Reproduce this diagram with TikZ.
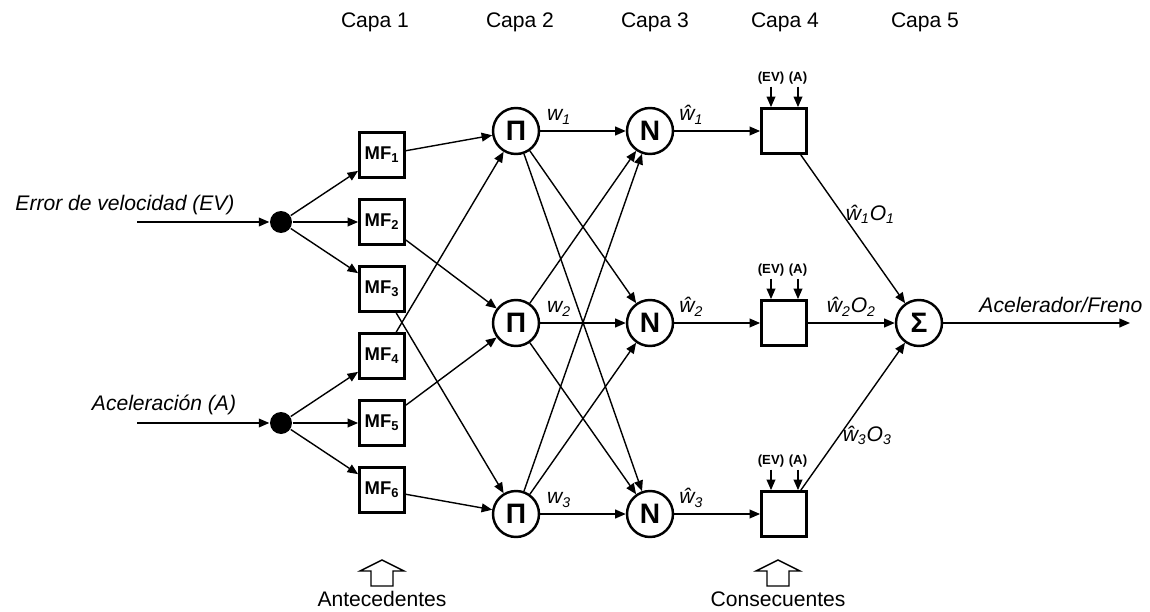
\documentclass[tikz,border=0pt]{standalone}
\usepackage{fontspec}
\setmainfont{Liberation Sans}
\usetikzlibrary{arrows.meta,positioning}

\tikzset{
  mf/.style={draw, line width=1.6pt, minimum size=0.9cm, inner sep=0pt,
    font=\bfseries\fontsize{10.5}{12}\selectfont},
  op/.style={draw, circle, line width=1.4pt, minimum size=0.92cm, inner sep=0pt,
    font=\bfseries\fontsize{16}{18}\selectfont},
  rule/.style={draw, line width=1.6pt, minimum size=0.9cm, inner sep=0pt},
  dot/.style={circle, fill, minimum size=0.44cm, inner sep=0pt},
  lbl/.style={font=\itshape\fontsize{12}{14}\selectfont, inner sep=1.5pt},
  tiny/.style={font=\bfseries\fontsize{7.5}{9}\selectfont, inner sep=1pt},
  title/.style={font=\fontsize{12}{14}\selectfont},
}

\begin{document}
\begin{tikzpicture}[x=0.02cm, y=-0.02cm, line width=0.8pt,
    >={Triangle[length=6pt,width=5pt]}]
    \useasboundingbox (0,0) rectangle (1150,612);

    % layer titles
    \node[title] (c1) at (375,22) {Capa 1};
    \node[title] (c2) at (520,22) {Capa 2};
    \node[title] (c3) at (655,22) {Capa 3};
    \node[title] (c4) at (785,22) {Capa 4};
    \node[title] (c5) at (925,22) {Capa 5};

    % inputs
    \coordinate (inev) at (137,222);
    \coordinate (ina) at (137,423);
    \node[lbl] (tev) at (125,205) {Error de velocidad (EV)};
    \node[lbl] (ta) at (164,405) {Aceleración (A)};
    \node[dot] (dev) at (281,222) {};
    \node[dot] (da) at (281,423) {};

    % layer 1
    \node[mf] (mf1) at (382,155) {MF\textsubscript{1}};
    \node[mf] (mf2) at (382,222) {MF\textsubscript{2}};
    \node[mf] (mf3) at (382,289) {MF\textsubscript{3}};
    \node[mf] (mf4) at (382,356) {MF\textsubscript{4}};
    \node[mf] (mf5) at (382,423) {MF\textsubscript{5}};
    \node[mf] (mf6) at (382,490) {MF\textsubscript{6}};

    % layer 2
    \node[op] (p1) at (516,131) {Π};
    \node[op] (p2) at (516,323) {Π};
    \node[op] (p3) at (516,514) {Π};

    % layer 3
    \node[op] (n1) at (650,131) {N};
    \node[op] (n2) at (650,323) {N};
    \node[op] (n3) at (650,514) {N};

    % layer 4
    \node[rule] (r1) at (784,131) {};
    \node[rule] (r2) at (784,323) {};
    \node[rule] (r3) at (784,514) {};
    \node[tiny] (ev1) at (771,78) {(EV)};
    \node[tiny] (a1) at (798,78) {(A)};
    \node[tiny] (ev2) at (771,270) {(EV)};
    \node[tiny] (a2) at (798,270) {(A)};
    \node[tiny] (ev3) at (771,461) {(EV)};
    \node[tiny] (a3) at (798,461) {(A)};

    % layer 5
    \node[op] (s) at (919,323) {Σ};
    \coordinate (out) at (1130,323);

    \path[->]
    (inev) edge (dev)
    (ina) edge (da)
    (dev) edge (mf1)
    (dev) edge (mf2)
    (dev) edge (mf3)
    (da) edge (mf4)
    (da) edge (mf5)
    (da) edge (mf6)
    (mf1) edge (p1)
    (mf4) edge (p1)
    (mf2) edge (p2)
    (mf5) edge (p2)
    (mf3) edge (p3)
    (mf6) edge (p3)
    (p1) edge node[lbl, above=2pt, pos=.2]{$\,$w\textsubscript{1}} (n1)
    (p1) edge (n2)
    (p1) edge (n3)
    (p2) edge (n1)
    (p2) edge node[lbl, above=2pt, pos=.2]{$\,$w\textsubscript{2}} (n2)
    (p2) edge (n3)
    (p3) edge (n1)
    (p3) edge (n2)
    (p3) edge node[lbl, above=2pt, pos=.2]{$\,$w\textsubscript{3}} (n3)
    (n1) edge node[lbl, above=2pt, pos=.2]{ŵ\textsubscript{1}} (r1)
    (n2) edge node[lbl, above=2pt, pos=.2]{ŵ\textsubscript{2}} (r2)
    (n3) edge node[lbl, above=2pt, pos=.2]{ŵ\textsubscript{3}} (r3)
    (ev1.south) edge (ev1.south |- r1.north)
    (a1.south) edge (a1.south |- r1.north)
    (ev2.south) edge (ev2.south |- r2.north)
    (a2.south) edge (a2.south |- r2.north)
    (ev3.south) edge (ev3.south |- r3.north)
    (a3.south) edge (a3.south |- r3.north)
    (r1) edge node[lbl, anchor=west, pos=.4]{ŵ\textsubscript{1}O\textsubscript{1}} (s)
    (r2) edge node[lbl, above=2pt]{ŵ\textsubscript{2}O\textsubscript{2}} (s)
    (r3) edge node[lbl, anchor=west, pos=.37]{ŵ\textsubscript{3}O\textsubscript{3}} (s)
    (s) edge node[lbl, above=4pt, pos=.63]{Acelerador/Freno} (out)
    ;

    % antecedentes / consecuentes
    \coordinate (ha) at (382,560);
    \coordinate (hc) at (778,560);
    \draw (ha) -- ++(22,11) -- ++(-11,0) -- ++(0,15) -- ++(-22,0) -- ++(0,-15) -- ++(-11,0) -- cycle;
    \draw (hc) -- ++(22,11) -- ++(-11,0) -- ++(0,15) -- ++(-22,0) -- ++(0,-15) -- ++(-11,0) -- cycle;
    \node[title] (ant) at (382,599) {Antecedentes};
    \node[title] (con) at (778,599) {Consecuentes};
\end{tikzpicture}
\end{document}
